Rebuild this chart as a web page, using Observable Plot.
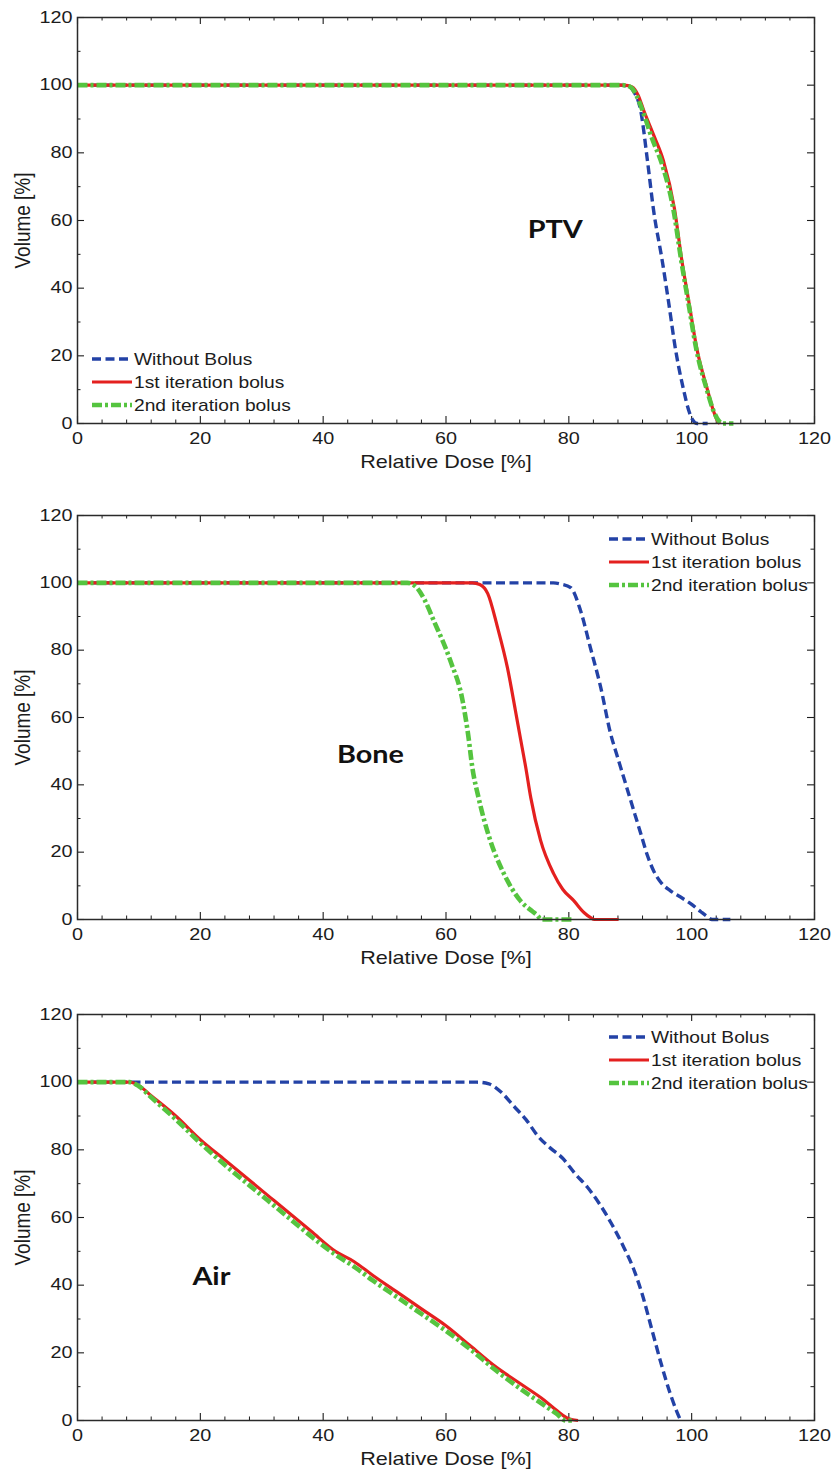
<!DOCTYPE html>
<html>
<head>
<meta charset="utf-8">
<script src="https://cdn.jsdelivr.net/npm/d3@7"></script>
<script src="https://cdn.jsdelivr.net/npm/@observablehq/plot@0.6"></script>
<style>
  body { margin: 0; background: #fff; }
  #chart { position: relative; width: 834px; height: 1473px; overflow: hidden; }
  .panel { position: absolute; left: 0; width: 834px; }
  #legends { position: absolute; left: 0; top: 0; pointer-events: none; }
</style>
</head>
<body>
<div id="chart"></div>
<script>
// Dose-volume histograms: relative dose [%] vs. volume [%], three structures.
const seriesNames = ["Without Bolus", "1st iteration bolus", "2nd iteration bolus"];

const doseTicks = [0, 20, 40, 60, 80, 100, 120];
const doseMinorTicks = [4, 8, 12, 16, 24, 28, 32, 36, 44, 48, 52, 56, 64, 68, 72, 76, 84, 88, 92, 96, 104, 108, 112, 116];
const volumeTicks = [0, 20, 40, 60, 80, 100, 120];
const volumeMinorTicks = [10, 30, 50, 70, 90, 110];

// PTV
const ptvWithout = [[0,100],[88.5,100],[89.8,99.6],[90.6,98],[91.7,92.5],[92.8,77.7],[93.8,63],[95.2,48.2],[96.2,36.4],[97.4,21.6],[98.7,9.8],[99.5,4],[100.2,1],[100.9,0],[102.6,0]];
const ptvFirst = [[0,100],[89,100],[90.3,99.5],[91.3,97],[92.2,92.5],[93.8,85.3],[95.4,77.7],[97.2,63.5],[98.4,48.2],[99.5,36.4],[100.9,21.6],[102.6,9.8],[103.5,4],[104.2,0.8],[104.6,0]];
const ptvSecond = [[0,100],[88.7,100],[90,99.5],[91,97],[91.9,93],[93.6,84],[95.2,76.5],[97.1,62.5],[98.3,48.2],[99.4,36.4],[100.8,21.6],[102.5,9.8],[103.5,4],[104.4,0.8],[105,0],[106.8,0]];

// Bone
const boneWithout = [[0,100],[77.5,100],[78.8,99.6],[80.3,98.6],[81.9,91.8],[83.5,80.8],[85.2,68.9],[86.8,55.2],[87.8,49],[88.8,43],[89.8,37],[90.8,31],[91.8,25],[92.8,19],[93.8,14.5],[95,11],[96.5,8.6],[98.5,6.3],[100,4.5],[101.5,2.3],[102.6,0.8],[103.3,0],[106.3,0]];
const boneFirst = [[0,100],[64.3,100],[65.5,99.5],[66.8,96.8],[68.4,86.7],[70,74.8],[71.3,62.1],[72,55],[73,45],[73.8,36.2],[75.4,23.5],[77.5,13.7],[79,9],[80.8,5.6],[82.5,2],[83.5,0.6],[84.2,0],[88.1,0]];
const boneSecond = [[0,100],[53.7,100],[55,99],[56.5,95],[58,88.8],[60.7,76.9],[62.7,65],[63.6,55],[64.3,45],[65.3,36.2],[67.2,23.5],[69.4,13.7],[72.1,5.6],[74,2.5],[74.9,1.2],[75.5,0],[80.6,0]];

// Air
const airWithout = [[0,100],[65,100],[67,99.5],[69,97],[71,93],[73,89],[75,84],[77,80.5],[79,77.5],[81,73],[83,69],[85,64],[87,58],[89,51],[90.5,45],[92,37],[93.5,27],[95,17],[96.5,8],[97.5,3],[98.2,0]];
const airFirst = [[0,100],[8.5,100],[10,99],[12,96],[16,90],[20,83],[24,77],[28,71],[32,65],[35,60.5],[38,56],[42,50],[45,47],[48,43],[52,38],[56,33],[60,28],[64,22],[68,16],[72,11],[76,6],[78,3],[80,0.5],[81.5,0]];
const airSecond = [[0,100],[8.5,100],[10,98.8],[12,95.5],[16,89],[20,82],[24,75.5],[28,69.5],[32,63.5],[35,59],[38,54.5],[42,49],[45,45.5],[48,41.5],[52,36.5],[56,31.5],[60,26.5],[64,21],[68,15],[72,9.5],[76,4.5],[78,2],[79.5,0],[80.5,0]];

// Structure names written inside each panel, at [dose, volume]
const regionLabels = [
  {name: "PTV", dose: 77.8, volume: 57},
  {name: "Bone", dose: 47.7, volume: 48.7},
  {name: "Air", dose: 21.8, volume: 42.3}
];

const ink = "#1c1c1c";
const font = "'Liberation Sans', Arial, Helvetica, sans-serif";
const widen = 1.2;

const styles = [
  {stroke: "#2342a6", strokeWidth: 3.4, strokeDasharray: "9,4.5"},
  {stroke: "#e4201f", strokeWidth: 3.2, strokeDasharray: null},
  {stroke: "#55c43f", strokeWidth: 4.6, strokeDasharray: "10,3,3,3"}
];

const panels = [
  {top: 0,   height: 498, mt: 17, mb: 75, label: regionLabels[0], series: [ptvWithout, ptvFirst, ptvSecond],   legend: {x: 92,  y: 359}},
  {top: 498, height: 498, mt: 17, mb: 77, label: regionLabels[1], series: [boneWithout, boneFirst, boneSecond], legend: {x: 609, y: 539}},
  {top: 997, height: 476, mt: 17, mb: 53, label: regionLabels[2], series: [airWithout, airFirst, airSecond],    legend: {x: 609, y: 1037}}
];

const ML = 77, MR = 20, W = 834;

// Glyphs are drawn slightly wide: scale each text element horizontally on screen,
// about its own anchor point, keeping any em-based line offsets intact
function widenText(root, f) {
  root.querySelectorAll("text").forEach(t => {
    const tr = t.getAttribute("transform") || "";
    const rotated = /rotate/.test(tr);
    const xa = t.getAttribute("x");
    let tx = 0;
    if (xa !== null && xa !== "" && !isNaN(+xa)) { tx = +xa; t.setAttribute("x", 0); }
    t.setAttribute("transform", `${tr} translate(${tx},0) ${rotated ? `scale(1,${f})` : `scale(${f},1)`}`);
  });
}

const chart = document.getElementById("chart");

panels.forEach(p => {
  const innerH = p.height - p.mt - p.mb;
  const innerW = W - ML - MR;
  const svg = Plot.plot({
    width: W,
    height: p.height,
    marginTop: p.mt,
    marginBottom: p.mb,
    marginLeft: ML,
    marginRight: MR,
    style: {fontFamily: font, fontSize: "16px", color: ink, background: "#fff", overflow: "visible"},
    x: {domain: [0, 120]},
    y: {domain: [0, 120]},
    marks: [
      // inward ticks on all four sides
      Plot.ruleX(doseTicks, {x: d => d, insetTop: innerH - 7, stroke: ink, strokeWidth: 1.1}),
      Plot.ruleX(doseTicks, {x: d => d, insetBottom: innerH - 7, stroke: ink, strokeWidth: 1.1}),
      Plot.ruleX(doseMinorTicks, {x: d => d, insetTop: innerH - 3.5, stroke: ink, strokeWidth: 1}),
      Plot.ruleX(doseMinorTicks, {x: d => d, insetBottom: innerH - 3.5, stroke: ink, strokeWidth: 1}),
      Plot.ruleY(volumeTicks, {y: d => d, insetRight: innerW - 7, stroke: ink, strokeWidth: 1.1}),
      Plot.ruleY(volumeTicks, {y: d => d, insetLeft: innerW - 7, stroke: ink, strokeWidth: 1.1}),
      Plot.ruleY(volumeMinorTicks, {y: d => d, insetRight: innerW - 3.5, stroke: ink, strokeWidth: 1}),
      Plot.ruleY(volumeMinorTicks, {y: d => d, insetLeft: innerW - 3.5, stroke: ink, strokeWidth: 1}),
      Plot.axisX(doseTicks, {tickSize: 0, tickPadding: 9, label: null, fontSize: 16.5, fill: ink}),
      Plot.axisY(volumeTicks, {tickSize: 0, tickPadding: 5, label: null, fontSize: 16.5, fill: ink}),
      Plot.text(["Relative Dose [%]"], {text: d => d, frameAnchor: "bottom", dy: 39,
        textAnchor: "middle", lineAnchor: "middle", fontSize: 18, fill: ink}),
      Plot.text(["Volume [%]"], {text: d => d, frameAnchor: "left", dx: -55, rotate: -90,
        textAnchor: "middle", lineAnchor: "middle", fontSize: 19, fill: ink}),
      ...p.series.map((s, i) => Plot.line(s, {
        x: d => d[0], y: d => d[1], curve: "monotone-x",
        stroke: styles[i].stroke, strokeWidth: styles[i].strokeWidth,
        strokeDasharray: styles[i].strokeDasharray, strokeLinecap: "butt", strokeLinejoin: "round"
      })),
      Plot.text([p.label], {x: "dose", y: "volume", text: "name", fontSize: 24, fontWeight: "bold",
        fontFamily: "Lato, 'Open Sans', sans-serif", fill: "#111"}),
      Plot.frame({stroke: "#2a2a2a", strokeWidth: 1.5})
    ]
  });
  widenText(svg, widen);
  const holder = document.createElement("div");
  holder.className = "panel";
  holder.style.top = p.top + "px";
  holder.style.height = p.height + "px";
  holder.appendChild(svg);
  chart.appendChild(holder);
});

// Legends, one per panel
const leg = d3.select(chart).append("svg")
  .attr("id", "legends").attr("width", W).attr("height", 1473);
panels.forEach(p => {
  seriesNames.forEach((name, i) => {
    const y = p.legend.y + i * 23;
    leg.append("line")
      .attr("x1", p.legend.x).attr("x2", p.legend.x + 40)
      .attr("y1", y).attr("y2", y)
      .attr("stroke", styles[i].stroke)
      .attr("stroke-width", styles[i].strokeWidth)
      .attr("stroke-dasharray", styles[i].strokeDasharray);
    leg.append("text")
      .attr("transform", `translate(${p.legend.x + 42},${y}) scale(${widen},1)`)
      .attr("dy", "0.35em")
      .attr("font-family", font)
      .attr("font-size", 16)
      .attr("fill", ink)
      .text(name);
  });
});
</script>
</body>
</html>
